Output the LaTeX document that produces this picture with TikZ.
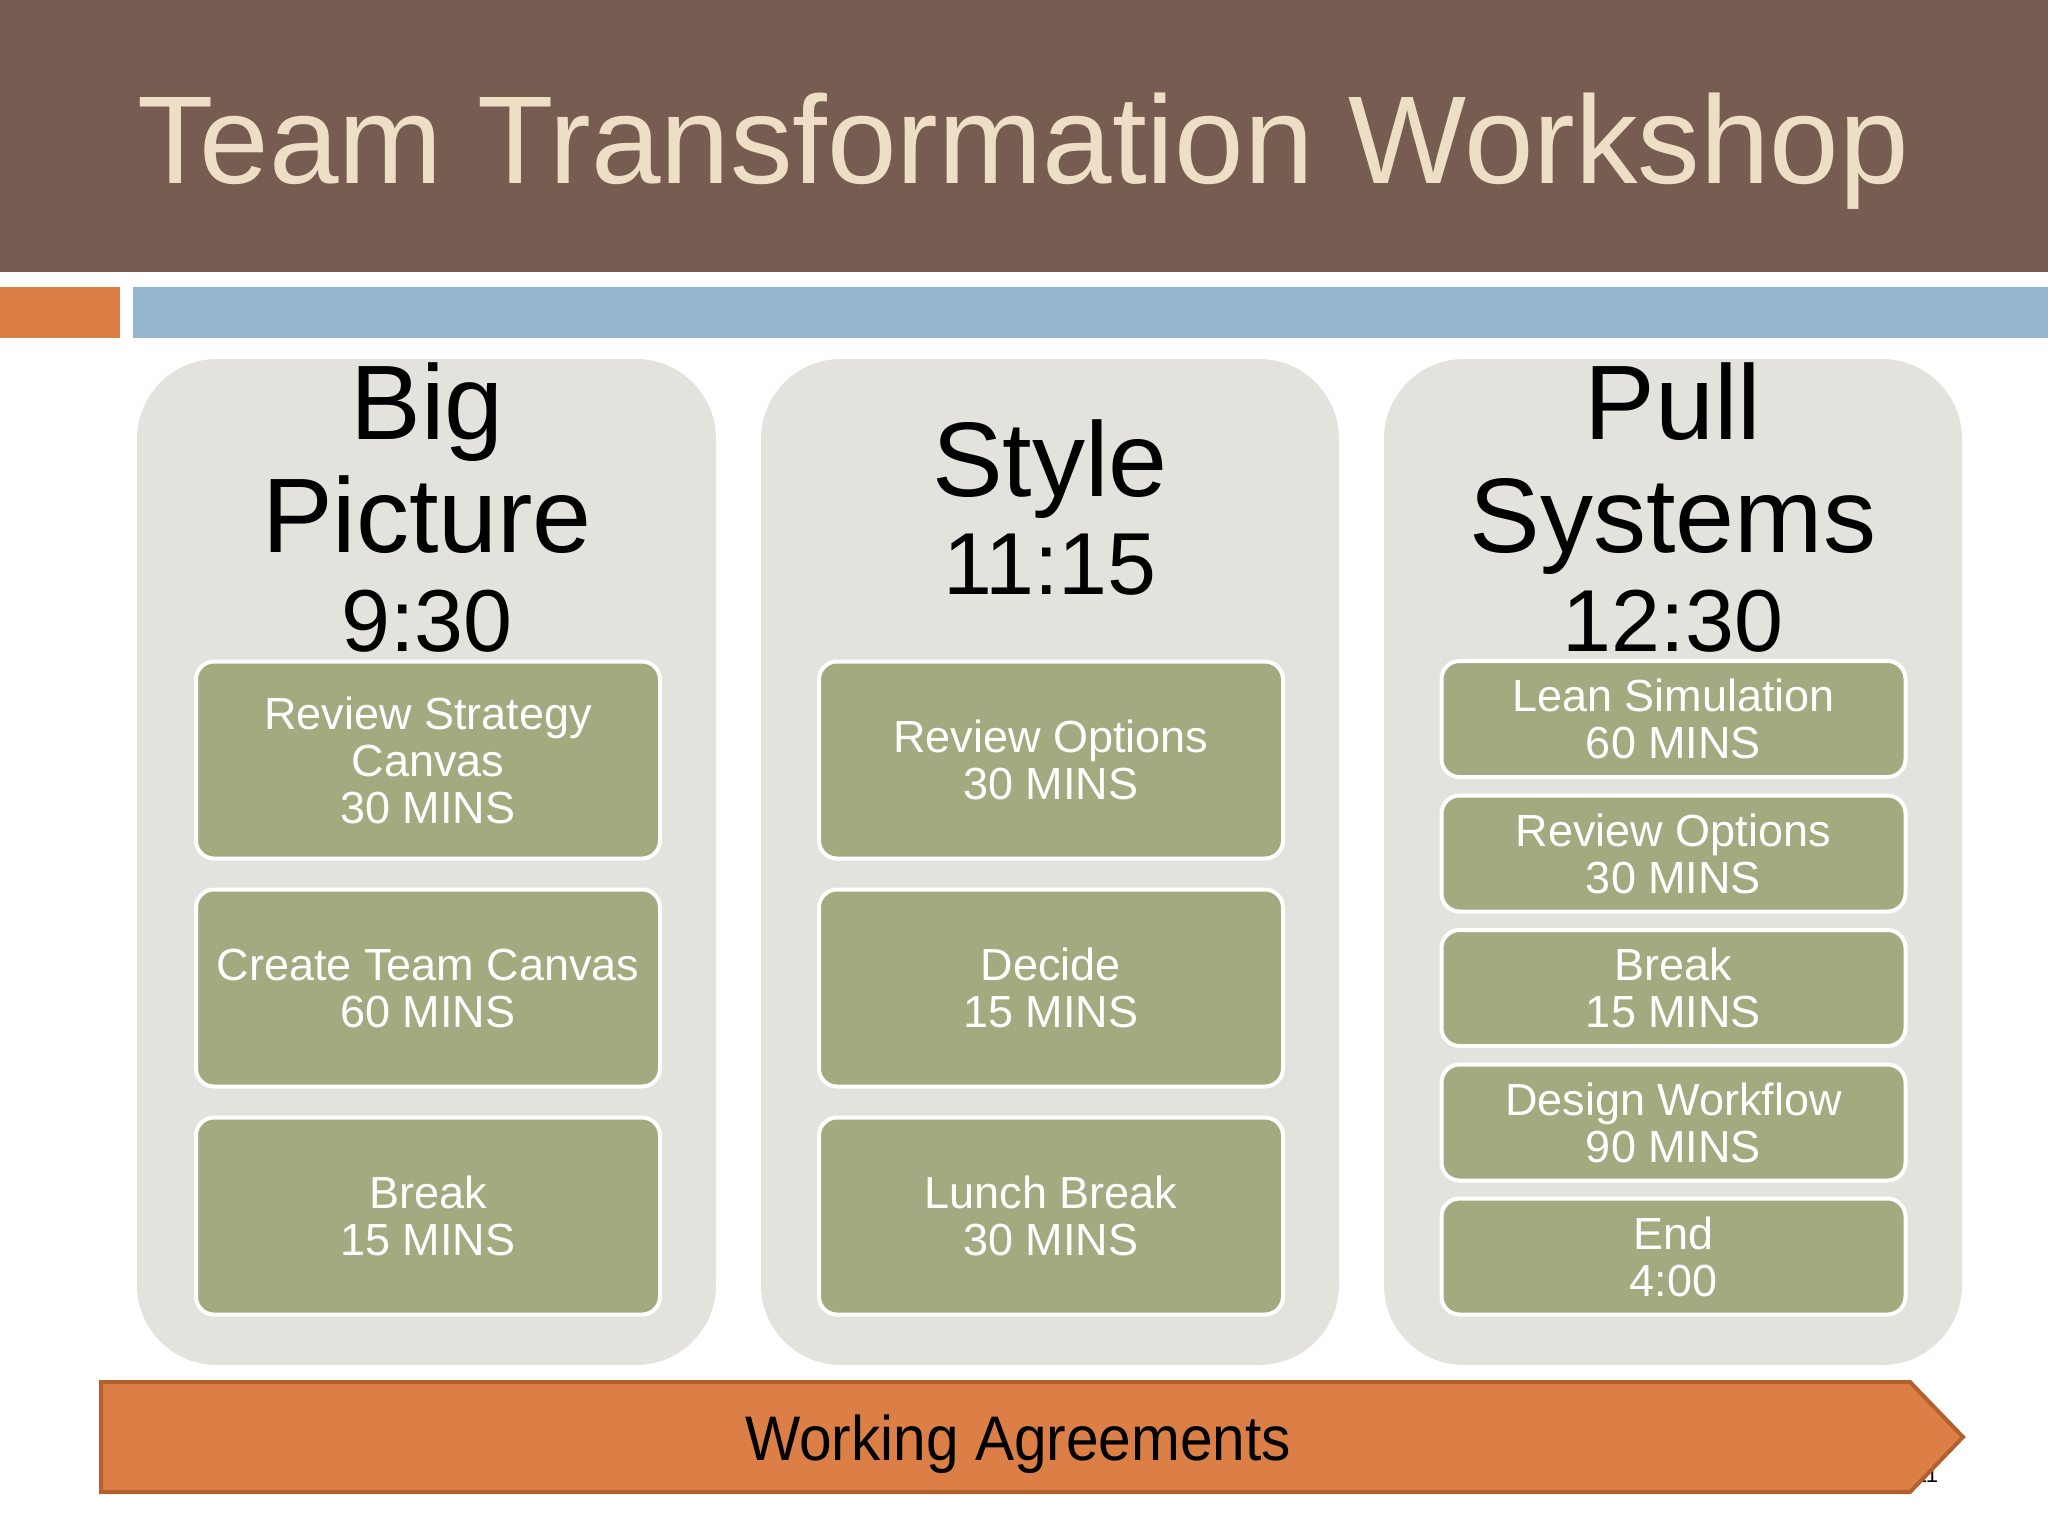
\documentclass[tikz,border=0pt]{standalone}
\usepackage{fontspec}
\setmainfont{Liberation Sans}
\newfontfamily\narrowfont[FakeStretch=0.93]{Liberation Sans}
\definecolor{barbrown}{HTML}{775D51}
\definecolor{titlecream}{HTML}{EEDEC6}
\definecolor{barorange}{HTML}{DB7F47}
\definecolor{barblue}{HTML}{94B6CF}
\definecolor{colgray}{HTML}{E3E2DD}
\definecolor{boxgreen}{HTML}{A4A97F}
\definecolor{arrowedge}{HTML}{B1602E}
\begin{document}
\begin{tikzpicture}[x=1pt,y=-1pt,
  colbg/.style={fill=colgray, rounded corners=80pt},
  gbox/.style={draw=white, line width=4pt, fill=boxgreen, rounded corners=18pt,
    text=white, align=center, font=\fontsize{45}{47}\selectfont, inner sep=0pt,
    minimum width=464pt},
  head/.style={anchor=base, inner sep=0pt, font=\fontsize{106}{106}\selectfont},
  headtime/.style={anchor=base, inner sep=0pt, font=\fontsize{88}{88}\selectfont}
]
\useasboundingbox (0,0) rectangle (2048,1536);
\fill[white] (0,0) rectangle (2048,1536);
% title bar
\fill[barbrown] (0,0) rectangle (2048,272);
\node[anchor=base, inner sep=0pt, text=titlecream, font=\fontsize{125}{125}\selectfont] (title) at (1023,183) {Team Transformation Workshop};
\fill[barorange] (0,287) rectangle (120,338);
\fill[barblue] (133,287) rectangle (2048,338);
% columns
\fill[colbg] (137,359) rectangle (716,1365);
\fill[colbg] (761,359) rectangle (1339,1365);
\fill[colbg] (1384,359) rectangle (1962,1365);
% headings
\node[head] (h1a) at (427,439) {Big};
\node[head] (h1b) at (427,552) {Picture};
\node[headtime] (h1c) at (427,651) {9:30};
\node[head] (h2a) at (1050,496) {Style};
\node[headtime] (h2b) at (1050,594) {11:15};
\node[head] (h3a) at (1673,439) {Pull};
\node[head] (h3b) at (1673,552) {Systems};
\node[headtime] (h3c) at (1673,651) {12:30};
% column 1 boxes
\node[gbox, minimum height=197pt] (b11) at (428,760) {Review Strategy\\Canvas\\30 MINS};
\node[gbox, minimum height=197pt] (b12) at (428,988) {Create Team Canvas\\60 MINS};
\node[gbox, minimum height=197pt] (b13) at (428,1216) {Break\\15 MINS};
% column 2 boxes
\node[gbox, minimum height=197pt] (b21) at (1051,760) {Review Options\\30 MINS};
\node[gbox, minimum height=197pt] (b22) at (1051,988) {Decide\\15 MINS};
\node[gbox, minimum height=197pt] (b23) at (1051,1216) {Lunch Break\\30 MINS};
% column 3 boxes
\node[gbox, minimum height=116pt] (b31) at (1673.5,719) {Lean Simulation\\60 MINS};
\node[gbox, minimum height=116pt] (b32) at (1673.5,853.5) {Review Options\\30 MINS};
\node[gbox, minimum height=116pt] (b33) at (1673.5,988) {Break\\15 MINS};
\node[gbox, minimum height=116pt] (b34) at (1673.5,1122.5) {Design Workflow\\90 MINS};
\node[gbox, minimum height=116pt] (b35) at (1673.5,1256.5) {End\\4:00};
% slide number (mostly hidden)
\node[anchor=base west, inner sep=0pt, text=black, font=\fontsize{22}{22}\selectfont] (slidenum) at (1915,1482) {11};
% bottom arrow
\draw[fill=barorange, draw=arrowedge, line width=4pt, line join=miter]
  (101,1382) -- (1910,1382) -- (1963,1437) -- (1910,1492) -- (101,1492) -- cycle;
\node[anchor=base, inner sep=0pt, font=\narrowfont\fontsize{63}{63}\selectfont] (wa) at (1018,1460) {Working Agreements};
\end{tikzpicture}
\end{document}
